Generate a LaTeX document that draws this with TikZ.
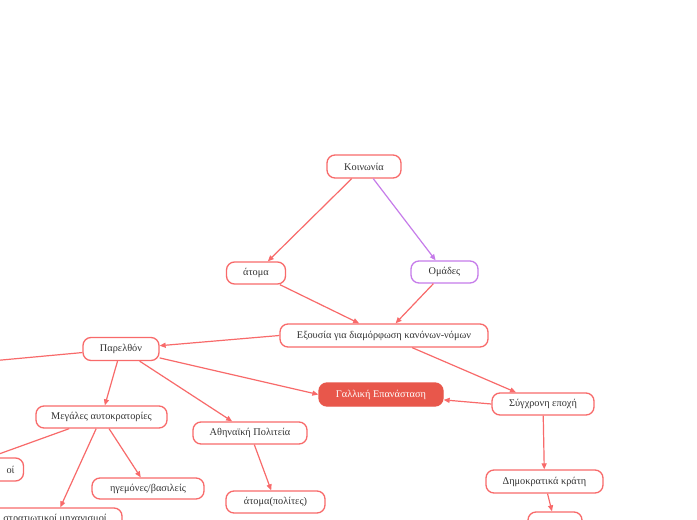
\documentclass[tikz,border=0pt]{standalone}
\usepackage{fontspec}
\setmainfont{Liberation Serif}
\usetikzlibrary{arrows.meta}
\definecolor{redline}{HTML}{F86A6A}
\definecolor{purpline}{HTML}{C67CEA}
\definecolor{fillred}{HTML}{E8574B}
\definecolor{txt}{HTML}{333333}
\begin{document}
\begin{tikzpicture}[x=1pt,y=-1pt,
  box/.style={draw=redline, line width=1.3pt, rounded corners=8pt, fill=white,
    text=txt, font=\fontsize{10.3}{12}\selectfont, inner sep=0pt, minimum height=22pt},
  pbox/.style={box, draw=purpline},
  fbox/.style={box, draw=fillred, fill=fillred, text=white},
  conn/.style={draw=redline, line width=1.2pt, -{Triangle[length=6pt,width=5pt]}},
  pconn/.style={conn, draw=purpline, -{Triangle[length=6pt,width=5pt,fill=purpline]}}]
\useasboundingbox (0,0) rectangle (697,520);
\clip (0,0) rectangle (697,520);
\fill[white] (0,0) rectangle (697,520);

\node[box, minimum width=74pt, minimum height=23pt] (koin) at (364,166.5) {Κοινωνία};
\node[box, minimum width=59pt] (atoma) at (256,273) {άτομα};
\node[pbox, minimum width=67pt] (omades) at (444.5,272) {Ομάδες};
\node[box, minimum width=208pt, minimum height=23pt] (exousia) at (384,335.5) {Εξουσία για διαμόρφωση κανόνων-νόμων};
\node[fbox, minimum width=124pt, minimum height=23pt] (galliki) at (381,394.5) {Γαλλική Επανάσταση};
\node[box, minimum width=102pt] (sygxroni) at (543,404) {Σύγχρονη εποχή};
\node[box, minimum width=117pt, minimum height=23pt] (dimokr) at (544.5,481.5) {Δημοκρατικά κράτη};
\node[box, minimum width=54pt, minimum height=23pt] (bottom) at (555,523.5) {};
\node[box, minimum width=76pt, minimum height=23pt] (parel) at (121,349) {Παρελθόν};
\coordinate (offleft) at (-20,362);
\node[box, minimum width=131pt] (megales) at (101.5,417) {Μεγάλες αυτοκρατορίες};
\node[box, minimum width=114pt] (athin) at (250,433) {Αθηναϊκή Πολιτεία};
\node[box, minimum width=99pt] (politest) at (275.5,502) {άτομα(πολίτες)};
\node[box, minimum width=112pt, minimum height=21pt] (igem) at (148,488.5) {ηγεμόνες/βασιλείς};
\node[box, text width=135pt, align=right, minimum height=23pt] (oi) at (-44,469.5) {οί\hspace*{9pt}};
\node[box, minimum width=134pt] (stratiot) at (55,519) {στρατιωτικοί μηχανισμοί};

\draw[conn] (koin) -- (atoma);
\draw[pconn] (koin) -- (omades);
\draw[conn] (atoma) -- (exousia);
\draw[conn] (omades) -- (exousia);
\draw[conn] (exousia.west) -- (parel);
\draw[conn] (exousia) -- (sygxroni);
\draw[conn] (sygxroni.west) -- (galliki);
\draw[conn] (parel) -- (galliki.west);
\draw[conn] (parel) -- (offleft);
\draw[conn] (parel) -- (megales);
\draw[conn] (parel) -- (athin);
\draw[conn] (megales) -- (oi);
\draw[conn] (megales) -- (stratiot);
\draw[conn] (megales) -- (igem);
\draw[conn] (athin) -- (politest);
\draw[conn] (sygxroni) -- (dimokr);
\draw[conn] (dimokr) -- (bottom);
\end{tikzpicture}
\end{document}
